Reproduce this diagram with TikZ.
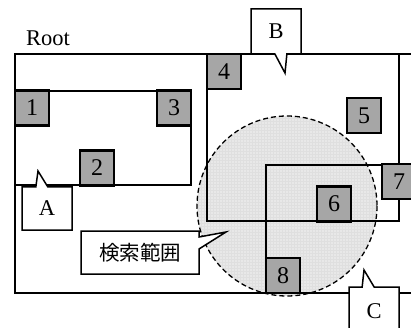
\documentclass[tikz,border=0pt]{standalone}
\usepackage{fontspec}
\setmainfont{Liberation Serif}
\newfontfamily\jpfont{Noto Sans CJK JP}
\usetikzlibrary{shapes.callouts,patterns}
\definecolor{boxgray}{RGB}{166,166,166}
\definecolor{rangefill}{RGB}{232,232,232}
\tikzset{
  region/.style={draw=black,line width=1.6pt},
  entry/.style={draw=black,line width=2.4pt,fill=boxgray,minimum width=34pt,minimum height=35pt,inner sep=0pt,
    font=\fontsize{24}{26}\selectfont},
  label callout/.style={rectangle callout,draw=black,line width=1.5pt,fill=white,inner sep=0pt,
    callout pointer width=12pt,font=\fontsize{22.5}{24}\selectfont}
}
\begin{document}
\begin{tikzpicture}[x=1pt,y=-1pt]
\useasboundingbox (0,0) rectangle (411,328);
\clip (0,0) rectangle (411,328);

% search range
\fill[rangefill] (287,206) circle (90);
\fill[pattern=grid,pattern color=gray!25] (287,206) circle (90);
\draw[dashed,line width=1.3pt,dash pattern=on 5pt off 3pt] (287,206) circle (90);

% regions
\draw[region] (15,54) rectangle (425,293);
\draw[region] (15,91) rectangle (191,185);
\draw[region] (207,54) rectangle (399,221);
\draw[region] (266,165) rectangle (425,293);

\node at (48,38) {\fontsize{22.5}{24}\selectfont Root};

% entries
\node[entry] (e1) at (32,108) {1};
\node[entry] (e2) at (97,168) {2};
\node[entry] (e3) at (174,108) {3};
\node[entry] (e4) at (224,71.5) {4};
\node[entry] (e5) at (364,115.5) {5};
\node[entry] (e6) at (334,204) {6};
\node[entry] (e7) at (399,181.5) {7};
\node[entry] (e8) at (283,275.5) {8};

% labels
\node[label callout,minimum width=50pt,minimum height=43pt,callout absolute pointer={(38,171)}] (la) at (47,208.5) {A};
\node[label callout,minimum width=50pt,minimum height=45pt,callout absolute pointer={(285,73)}] (lb) at (276,31.5) {B};
\node[label callout,minimum width=50pt,minimum height=48pt,callout absolute pointer={(364,270)}] (lc) at (374,311) {C};
\node[label callout,minimum width=118pt,minimum height=43pt,callout absolute pointer={(226,232)},
  font=\jpfont\fontsize{20.5}{22}\selectfont] (ls) at (140,252.5) {検索範囲};
\end{tikzpicture}
\end{document}
